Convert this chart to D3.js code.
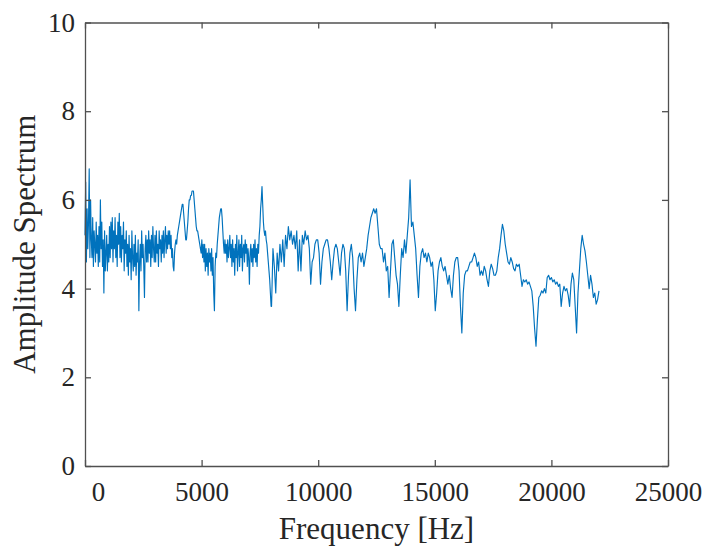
<!DOCTYPE html>
<html>
<head>
<meta charset="utf-8">
<script src="https://cdnjs.cloudflare.com/ajax/libs/d3/7.8.5/d3.min.js"></script>
<style>
  body { margin: 0; background: #fff; }
  text { font-family: 'Liberation Serif', 'Times New Roman', serif; fill: #262626; }
</style>
</head>
<body>
<div id="chart"></div>
<script>
// amplitude spectrum
// low band: 0 .. 7980 Hz, every 30 Hz
var lowBandStart = 0
var lowBandStep = 30
var lowBandAmp = [
  5.2,6.4,4.6,5.8,4.9,5.5,6.7,4.7,6.0,5.1,
  4.7,5.6,4.5,5.3,5.0,4.6,5.5,4.8,5.2,4.5,
  5.4,4.6,6.0,4.9,5.5,4.5,5.1,3.9,5.3,4.4,
  4.8,5.2,4.4,5.0,4.6,5.4,4.7,5.5,4.9,5.6,
  4.6,5.3,4.9,5.6,4.7,5.2,4.5,5.5,5.0,5.7,
  4.7,5.4,4.6,5.2,4.9,5.5,4.4,5.1,4.8,5.3,
  4.5,5.0,4.3,5.2,4.6,4.9,4.2,5.3,4.7,4.4,
  5.0,4.5,5.2,4.3,4.8,4.6,5.1,3.5,4.6,5.0,
  4.4,5.3,4.7,5.0,4.5,3.8,4.9,5.2,4.6,5.1,
  4.6,5.3,4.8,5.1,4.5,5.2,4.7,5.4,4.9,4.6,
  5.2,4.6,5.3,4.8,5.0,4.5,5.3,4.9,5.1,4.6,
  5.2,4.8,5.3,4.7,5.1,5.4,4.8,5.2,4.9,5.3,
  5.0,5.3,4.9,5.2,4.7,4.9,4.5,4.4,4.8,5.0,
  5.1,5.0,5.2,5.3,5.4,5.5,5.6,5.7,5.8,5.9,
  5.9,5.7,5.5,5.3,5.1,5.1,5.3,5.5,5.8,6.0,
  6.0,6.1,6.1,6.2,6.2,6.2,6.0,5.8,5.6,5.4,
  5.3,5.3,5.2,5.1,5.0,4.9,4.8,5.1,4.7,5.0,
  4.6,5.0,4.4,4.9,4.5,4.8,4.3,4.9,4.6,4.8,
  4.4,4.9,4.3,4.7,3.9,3.5,4.5,4.8,4.7,5.0,
  5.2,5.4,5.6,5.7,5.8,5.8,5.6,5.3,5.0,4.8,
  5.1,4.8,5.0,4.6,5.1,4.7,4.9,5.2,4.7,5.0,
  4.5,5.1,4.6,4.9,4.3,5.0,4.7,5.2,4.4,4.8,
  5.1,4.5,5.0,4.7,5.2,4.4,4.9,5.0,4.6,5.1,
  4.8,5.0,4.5,4.9,4.7,4.1,4.8,5.0,4.6,4.9,
  4.5,5.0,4.7,5.1,4.6,4.9,4.5,5.0,4.8,5.2,
  5.4,5.8,6.0,6.3,5.9,5.5,5.3,5.2,5.3,5.1,
  5.0,4.8,4.6,4.4,4.2,3.9,3.6
]
// high band: 8000 .. 22040 Hz, every 60 Hz
var highBandStart = 8000
var highBandStep = 60
var highBandAmp = [
  3.6,4.9,4.5,3.9,4.8,4.4,5.0,4.6,5.1,4.5,
  5.2,4.9,5.4,5.1,5.3,5.0,5.2,4.9,5.3,4.4,
  5.1,4.4,5.2,5.0,5.3,5.1,5.2,4.9,4.1,4.6,
  4.7,5.0,5.1,5.1,4.8,4.1,4.6,4.9,5.0,5.1,
  5.1,4.9,4.6,4.2,4.6,4.9,5.0,4.9,4.6,4.3,
  4.8,5.0,4.9,4.4,3.5,4.3,4.8,5.0,4.7,4.0,
  3.5,4.2,4.7,4.8,4.6,4.8,4.5,4.7,4.9,5.2,
  5.4,5.6,5.7,5.8,5.7,5.8,5.4,5.0,4.9,4.9,
  4.6,4.8,4.4,4.5,3.8,4.4,5.0,5.1,4.7,4.3,
  4.1,3.6,4.3,4.9,4.7,5.1,4.8,5.2,5.6,6.45,
  5.4,5.5,5.2,4.9,4.3,3.8,4.5,4.8,4.9,4.7,
  4.8,4.6,4.8,4.7,4.5,4.6,4.2,3.5,3.9,4.4,
  4.6,4.7,4.5,4.4,4.5,4.3,4.1,4.3,4.0,3.8,
  4.3,4.6,4.7,4.7,4.4,3.6,3.0,3.9,4.3,4.4,
  4.4,4.5,4.6,4.6,4.7,4.8,4.7,4.5,4.6,4.3,
  4.4,4.3,4.5,4.4,4.2,4.05,4.4,4.55,4.45,4.3,
  4.3,4.4,4.7,4.9,5.2,5.45,5.3,5.0,4.8,4.6,
  4.55,4.7,4.6,4.45,4.4,4.55,4.5,4.55,4.3,4.05,
  4.2,4.15,4.2,4.1,4.15,4.05,3.95,3.6,3.1,2.7,
  3.3,3.8,3.85,3.95,3.9,4.0,3.9,4.25,4.3,4.2,
  4.25,4.15,4.2,4.1,4.15,4.05,4.1,3.6,3.9,4.05,
  3.95,4.0,3.85,3.6,4.1,4.35,4.2,3.6,3.0,3.9,
  4.4,4.9,5.2,5.0,4.85,4.6,4.3,4.0,4.3,4.1,
  3.8,3.9,3.65,3.75,3.95
]
var xTicks = [0, 5000, 10000, 15000, 20000, 25000]
var yTicks = [0, 2, 4, 6, 8, 10]

var margin = { top: 22.5, left: 85, right: 40, bottom: 80 }
var width = 708 - margin.left - margin.right
var height = 546 - margin.top - margin.bottom

var points = lowBandAmp
  .map((a, i) => ({ f: lowBandStart + i * lowBandStep, a: a }))
  .concat(highBandAmp.map((a, i) => ({ f: highBandStart + i * highBandStep, a: a })))

var svg = d3
  .select('#chart')
  .append('svg')
  .attr('width', 708)
  .attr('height', 546)
  .append('g')
  .attr('transform', `translate(${margin.left},${margin.top})`)

var xPositionScale = d3.scaleLinear().domain([0, 25000]).range([0, width])
var yPositionScale = d3.scaleLinear().domain([0, 10]).range([height, 0])

var line = d3
  .line()
  .x(d => xPositionScale(d.f))
  .y(d => yPositionScale(d.a))

svg
  .append('path')
  .datum(points)
  .attr('d', line)
  .attr('fill', 'none')
  .attr('stroke', '#0072BD')
  .attr('stroke-width', 1.15)
  .attr('stroke-linejoin', 'round')

// axes, ticks pointing inwards on all four sides
var tickLen = 6
function styleAxis(g) {
  g.select('.domain').attr('stroke', '#505050').attr('stroke-width', 1.3)
  g.selectAll('.tick line').attr('stroke', '#505050').attr('stroke-width', 1.3)
  g.selectAll('text').attr('font-size', 27).attr('fill', '#262626')
}

var xAxis = d3
  .axisBottom(xPositionScale)
  .tickValues(xTicks)
  .tickSize(-tickLen)
  .tickSizeOuter(0)
  .tickPadding(16)
  .tickFormat(d3.format('d'))

svg
  .append('g')
  .attr('transform', `translate(0,${height})`)
  .call(xAxis)
  .call(styleAxis)
  .call(g => g.selectAll('text').attr('dy', '0.71em'))
  .call(g => g.selectAll('.tick').filter(d => d === 0).select('text').attr('dx', 13))

svg
  .append('g')
  .call(d3.axisTop(xPositionScale).tickValues(xTicks).tickSize(-tickLen).tickSizeOuter(0).tickFormat(''))
  .call(styleAxis)

var yAxis = d3
  .axisLeft(yPositionScale)
  .tickValues(yTicks)
  .tickSize(-tickLen)
  .tickSizeOuter(0)
  .tickPadding(10)

svg
  .append('g')
  .call(yAxis)
  .call(styleAxis)

svg
  .append('g')
  .attr('transform', `translate(${width},0)`)
  .call(d3.axisRight(yPositionScale).tickValues(yTicks).tickSize(-tickLen).tickSizeOuter(0).tickFormat(''))
  .call(styleAxis)

svg
  .append('text')
  .attr('x', width / 2)
  .attr('y', height + 73)
  .attr('text-anchor', 'middle')
  .attr('font-size', 31)
  .text('Frequency [Hz]')

svg
  .append('text')
  .attr('transform', `translate(${35 - margin.left},${height / 2}) rotate(-90)`)
  .attr('text-anchor', 'middle')
  .attr('font-size', 31)
  .text('Amplitude Spectrum')
</script>
</body>
</html>
